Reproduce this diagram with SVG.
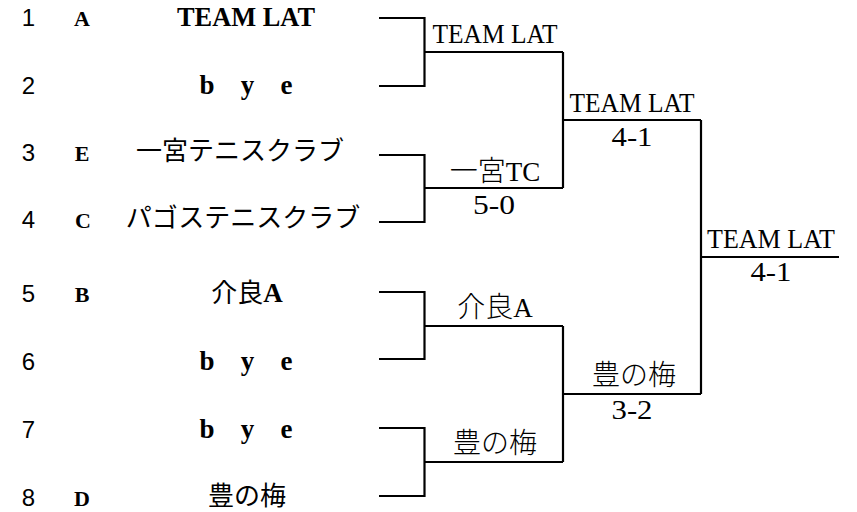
<svg xmlns="http://www.w3.org/2000/svg" width="857" height="512" viewBox="0 0 857 512">
<style>
.seed{font-family:"Liberation Sans","Noto Sans",sans-serif;font-size:24px;fill:#000;text-anchor:middle}
.grp{font-family:"Liberation Serif","Noto Sans CJK JP",serif;font-size:22px;font-weight:bold;fill:#000;text-anchor:middle}
.name{font-family:"Liberation Serif","Noto Sans CJK JP",serif;font-size:27px;font-weight:bold;fill:#000;text-anchor:middle}
.cjk{font-family:"Noto Sans CJK JP",sans-serif;font-size:26px;font-weight:normal}
.lbl{font-family:"Liberation Serif","Noto Sans CJK JP",serif;font-size:27px;fill:#000;text-anchor:middle}
.lcjk{font-family:"Noto Sans CJK JP",sans-serif;font-size:28px;font-weight:300}
.ln{fill:none;stroke:#000;stroke-width:2.2}
</style>
<g id="entries">
<g id="e1"><text class="seed" x="28.5" y="26">1</text><text class="grp" x="82" y="26">A</text><text class="name" x="246" y="26" textLength="138" lengthAdjust="spacingAndGlyphs">TEAM LAT</text></g>
<g id="e2"><text class="seed" x="28.5" y="94">2</text><text class="name" x="246" y="94" textLength="93" xml:space="preserve">b y e</text></g>
<g id="e3"><text class="seed" x="28.5" y="161">3</text><text class="grp" x="82" y="161">E</text><text class="name" x="240" y="160"><tspan class="cjk">一宮テニスクラブ</tspan></text></g>
<g id="e4"><text class="seed" x="28.5" y="228">4</text><text class="grp" x="83" y="228">C</text><text class="name" x="243" y="227"><tspan class="cjk">パゴステニスクラブ</tspan></text></g>
<g id="e5"><text class="seed" x="28.5" y="302">5</text><text class="grp" x="82" y="302">B</text><text class="name" x="247" y="302"><tspan class="cjk">介良</tspan>A</text></g>
<g id="e6"><text class="seed" x="28.5" y="370">6</text><text class="name" x="246" y="370" textLength="93" xml:space="preserve">b y e</text></g>
<g id="e7"><text class="seed" x="28.5" y="438">7</text><text class="name" x="246" y="438" textLength="93" xml:space="preserve">b y e</text></g>
<g id="e8"><text class="seed" x="28.5" y="506">8</text><text class="grp" x="82" y="506">D</text><text class="name" x="247" y="505"><tspan class="cjk">豊の梅</tspan></text></g>
</g>
<g id="connectors">
<path class="ln" d="M379 18H424.5V86H379M424.5 52H563"/>
<path class="ln" d="M379 155H424.5V222H379M424.5 188H563"/>
<path class="ln" d="M379 292H424.5V359H379M424.5 326H563"/>
<path class="ln" d="M379 428H424.5V496H379M424.5 462H563"/>
<path class="ln" d="M563 52V188M563 120H701"/>
<path class="ln" d="M563 326V462M563 394H701"/>
<path class="ln" d="M701 120V394M701 257H839"/>
</g>
<g id="labels">
<g id="w1"><text class="lbl" x="495" y="43" textLength="125" lengthAdjust="spacingAndGlyphs">TEAM LAT</text></g>
<g id="w2"><text class="lbl" x="495" y="181"><tspan class="lcjk">一宮</tspan>TC</text><text class="lbl" x="494" y="214" textLength="42" lengthAdjust="spacingAndGlyphs">5-0</text></g>
<g id="w3"><text class="lbl" x="495" y="317"><tspan class="lcjk">介良</tspan>A</text></g>
<g id="w4"><text class="lbl" x="495" y="453"><tspan class="lcjk">豊の梅</tspan></text></g>
<g id="w5"><text class="lbl" x="632" y="112" textLength="125" lengthAdjust="spacingAndGlyphs">TEAM LAT</text><text class="lbl" x="632" y="146" textLength="41" lengthAdjust="spacingAndGlyphs">4-1</text></g>
<g id="w6"><text class="lbl" x="634" y="385"><tspan class="lcjk">豊の梅</tspan></text><text class="lbl" x="632" y="419" textLength="41" lengthAdjust="spacingAndGlyphs">3-2</text></g>
<g id="w7"><text class="lbl" x="771" y="248" textLength="128" lengthAdjust="spacingAndGlyphs">TEAM LAT</text><text class="lbl" x="771" y="281" textLength="41" lengthAdjust="spacingAndGlyphs">4-1</text></g>
</g>
</svg>
